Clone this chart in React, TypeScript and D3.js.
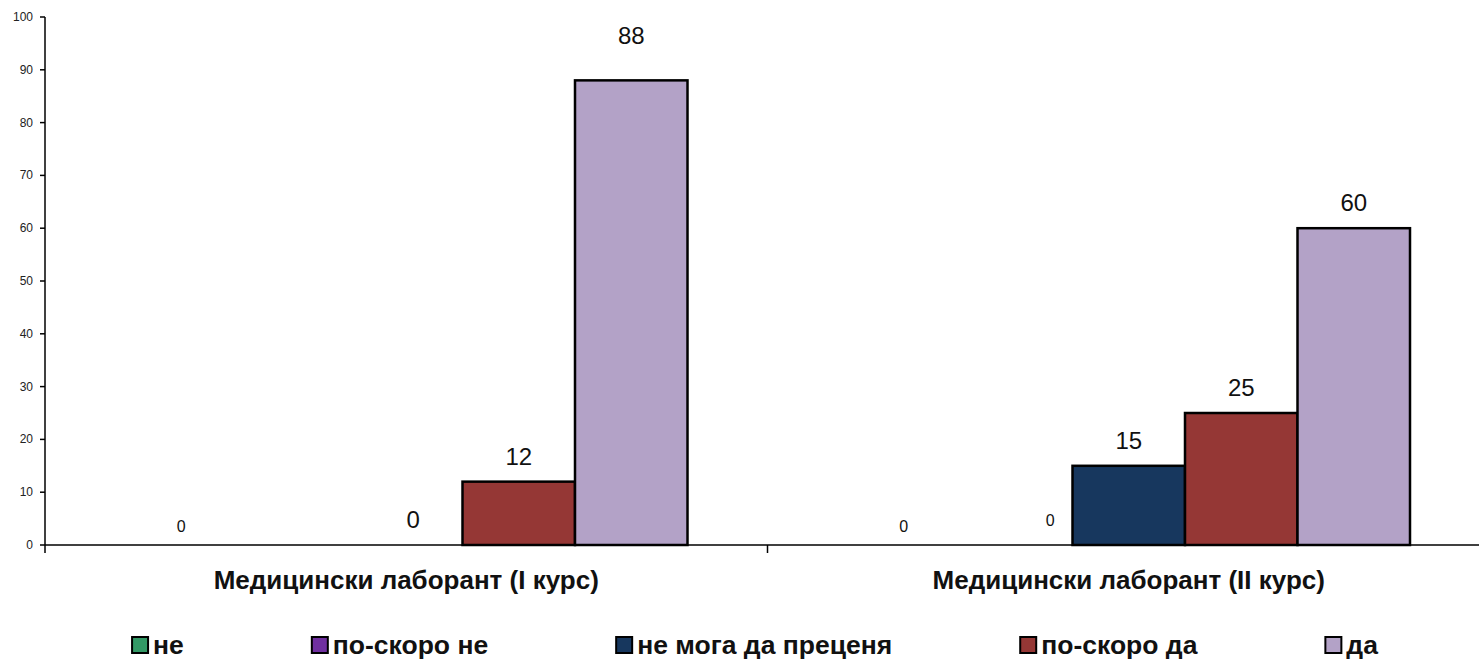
import React, { useRef, useEffect } from 'react';
import * as d3 from 'd3';

// categories and series
const categories = ['Медицински лаборант (I курс)', 'Медицински лаборант (II курс)'];
const seriesNames = ['не', 'по-скоро не', 'не мога да преценя', 'по-скоро да', 'да'];
const seriesColors = ['#339966', '#7030A0', '#17375E', '#953735', '#B3A2C7'];

// values per category (null = no bar, no label)
const valuesFirst = [0, null, 0, 12, 88];
const valuesSecond = [0, 0, 15, 25, 60];
const yTicks = [0, 10, 20, 30, 40, 50, 60, 70, 80, 90, 100];

// label styling (font size and nudges), kept apart from the data
const labelSmall = new Set(['0-0', '1-0', '1-1']);
const labelNudge: Record<string, [number, number]> = {
  '0-2': [7, 0],
  '0-4': [0, -19],
  '1-1': [34, -6],
};

const W = 1479;
const H = 660;

const App = () => {
  const svgRef = useRef<SVGSVGElement | null>(null);

  useEffect(() => {
    document.body.style.margin = '0';
    const svg = d3.select(svgRef.current);
    svg.selectAll('*').remove();

    const margin = { left: 45, top: 17, bottom: 115 };
    const plotBottom = H - margin.bottom;
    const bandW = 722.5;

    const y = d3.scaleLinear().domain([0, 100]).range([plotBottom, margin.top]);
    const x0 = d3
      .scaleBand<string>()
      .domain(categories)
      .range([margin.left, margin.left + bandW * categories.length])
      .padding(0);
    const x1 = d3
      .scaleBand<string>()
      .domain(seriesNames)
      .range([80, bandW - 80])
      .padding(0);

    const table = categories.map((c, i) => ({
      category: c,
      values: i === 0 ? valuesFirst : valuesSecond,
    }));

    const font = 'Arial, "Liberation Sans", sans-serif';

    // bars
    table.forEach((row, ci) => {
      const g = svg.append('g').attr('transform', `translate(${x0(row.category)},0)`);
      row.values.forEach((v, si) => {
        if (v === null) return;
        const bx = x1(seriesNames[si])!;
        if (v > 0) {
          g.append('rect')
            .attr('x', bx)
            .attr('y', y(v))
            .attr('width', x1.bandwidth())
            .attr('height', y(0) - y(v))
            .attr('fill', seriesColors[si])
            .attr('stroke', '#000')
            .attr('stroke-width', 2.5);
        }
        const key = `${ci}-${si}`;
        const small = labelSmall.has(key);
        const [dx, dy] = labelNudge[key] || [0, 0];
        g.append('text')
          .attr('x', bx + x1.bandwidth() / 2 + dx)
          .attr('y', y(v) - (small ? 13 : 17) + dy)
          .attr('text-anchor', 'middle')
          .attr('font-family', font)
          .attr('font-size', small ? 16 : 24)
          .attr('fill', '#111')
          .text(v);
      });
    });

    // y axis
    const yAxis = svg.append('g');
    yAxis
      .append('line')
      .attr('x1', margin.left)
      .attr('x2', margin.left)
      .attr('y1', margin.top)
      .attr('y2', plotBottom + 8)
      .attr('stroke', '#000')
      .attr('stroke-width', 1.5);
    yTicks.forEach((t) => {
      yAxis
        .append('line')
        .attr('x1', margin.left - 5)
        .attr('x2', margin.left)
        .attr('y1', y(t))
        .attr('y2', y(t))
        .attr('stroke', '#000')
        .attr('stroke-width', 1.5);
      yAxis
        .append('text')
        .attr('x', 33)
        .attr('y', y(t) + 4)
        .attr('text-anchor', 'end')
        .attr('font-family', font)
        .attr('font-size', 12)
        .attr('fill', '#222')
        .text(t);
    });

    // x axis
    const xAxis = svg.append('g');
    xAxis
      .append('line')
      .attr('x1', margin.left)
      .attr('x2', W)
      .attr('y1', plotBottom)
      .attr('y2', plotBottom)
      .attr('stroke', '#000')
      .attr('stroke-width', 1.5);
    categories.forEach((c, i) => {
      if (i > 0) {
        xAxis
          .append('line')
          .attr('x1', x0(c)!)
          .attr('x2', x0(c)!)
          .attr('y1', plotBottom)
          .attr('y2', plotBottom + 8)
          .attr('stroke', '#000')
          .attr('stroke-width', 1.5);
      }
      xAxis
        .append('text')
        .attr('x', x0(c)! + x0.bandwidth() / 2)
        .attr('y', plotBottom + 44)
        .attr('text-anchor', 'middle')
        .attr('font-family', font)
        .attr('font-weight', 'bold')
        .attr('font-size', 26)
        .attr('fill', '#111')
        .text(c);
    });

    // legend, laid out left to right with measured text widths
    const legend = svg.append('g');
    const gap = 128;
    const box = 16;
    const items = seriesNames.map((name, i) => {
      const g = legend.append('g');
      g.append('rect')
        .attr('x', 0)
        .attr('y', -box / 2)
        .attr('width', box)
        .attr('height', box)
        .attr('fill', seriesColors[i])
        .attr('stroke', '#000')
        .attr('stroke-width', 2);
      const t = g
        .append('text')
        .attr('x', box + 5)
        .attr('y', 9)
        .attr('font-family', font)
        .attr('font-weight', 'bold')
        .attr('font-size', 26.5)
        .attr('fill', '#111')
        .text(name);
      const w = box + 5 + (t.node() as SVGTextElement).getComputedTextLength();
      return { g, w };
    });
    const total = d3.sum(items, (d) => d.w) + gap * (items.length - 1);
    let cx = 755 - total / 2;
    items.forEach((it) => {
      it.g.attr('transform', `translate(${cx},645)`);
      cx += it.w + gap;
    });
  }, []);

  return <svg ref={svgRef} width={W} height={H} style={{ display: 'block', background: '#fff' }} />;
};

export default App;
